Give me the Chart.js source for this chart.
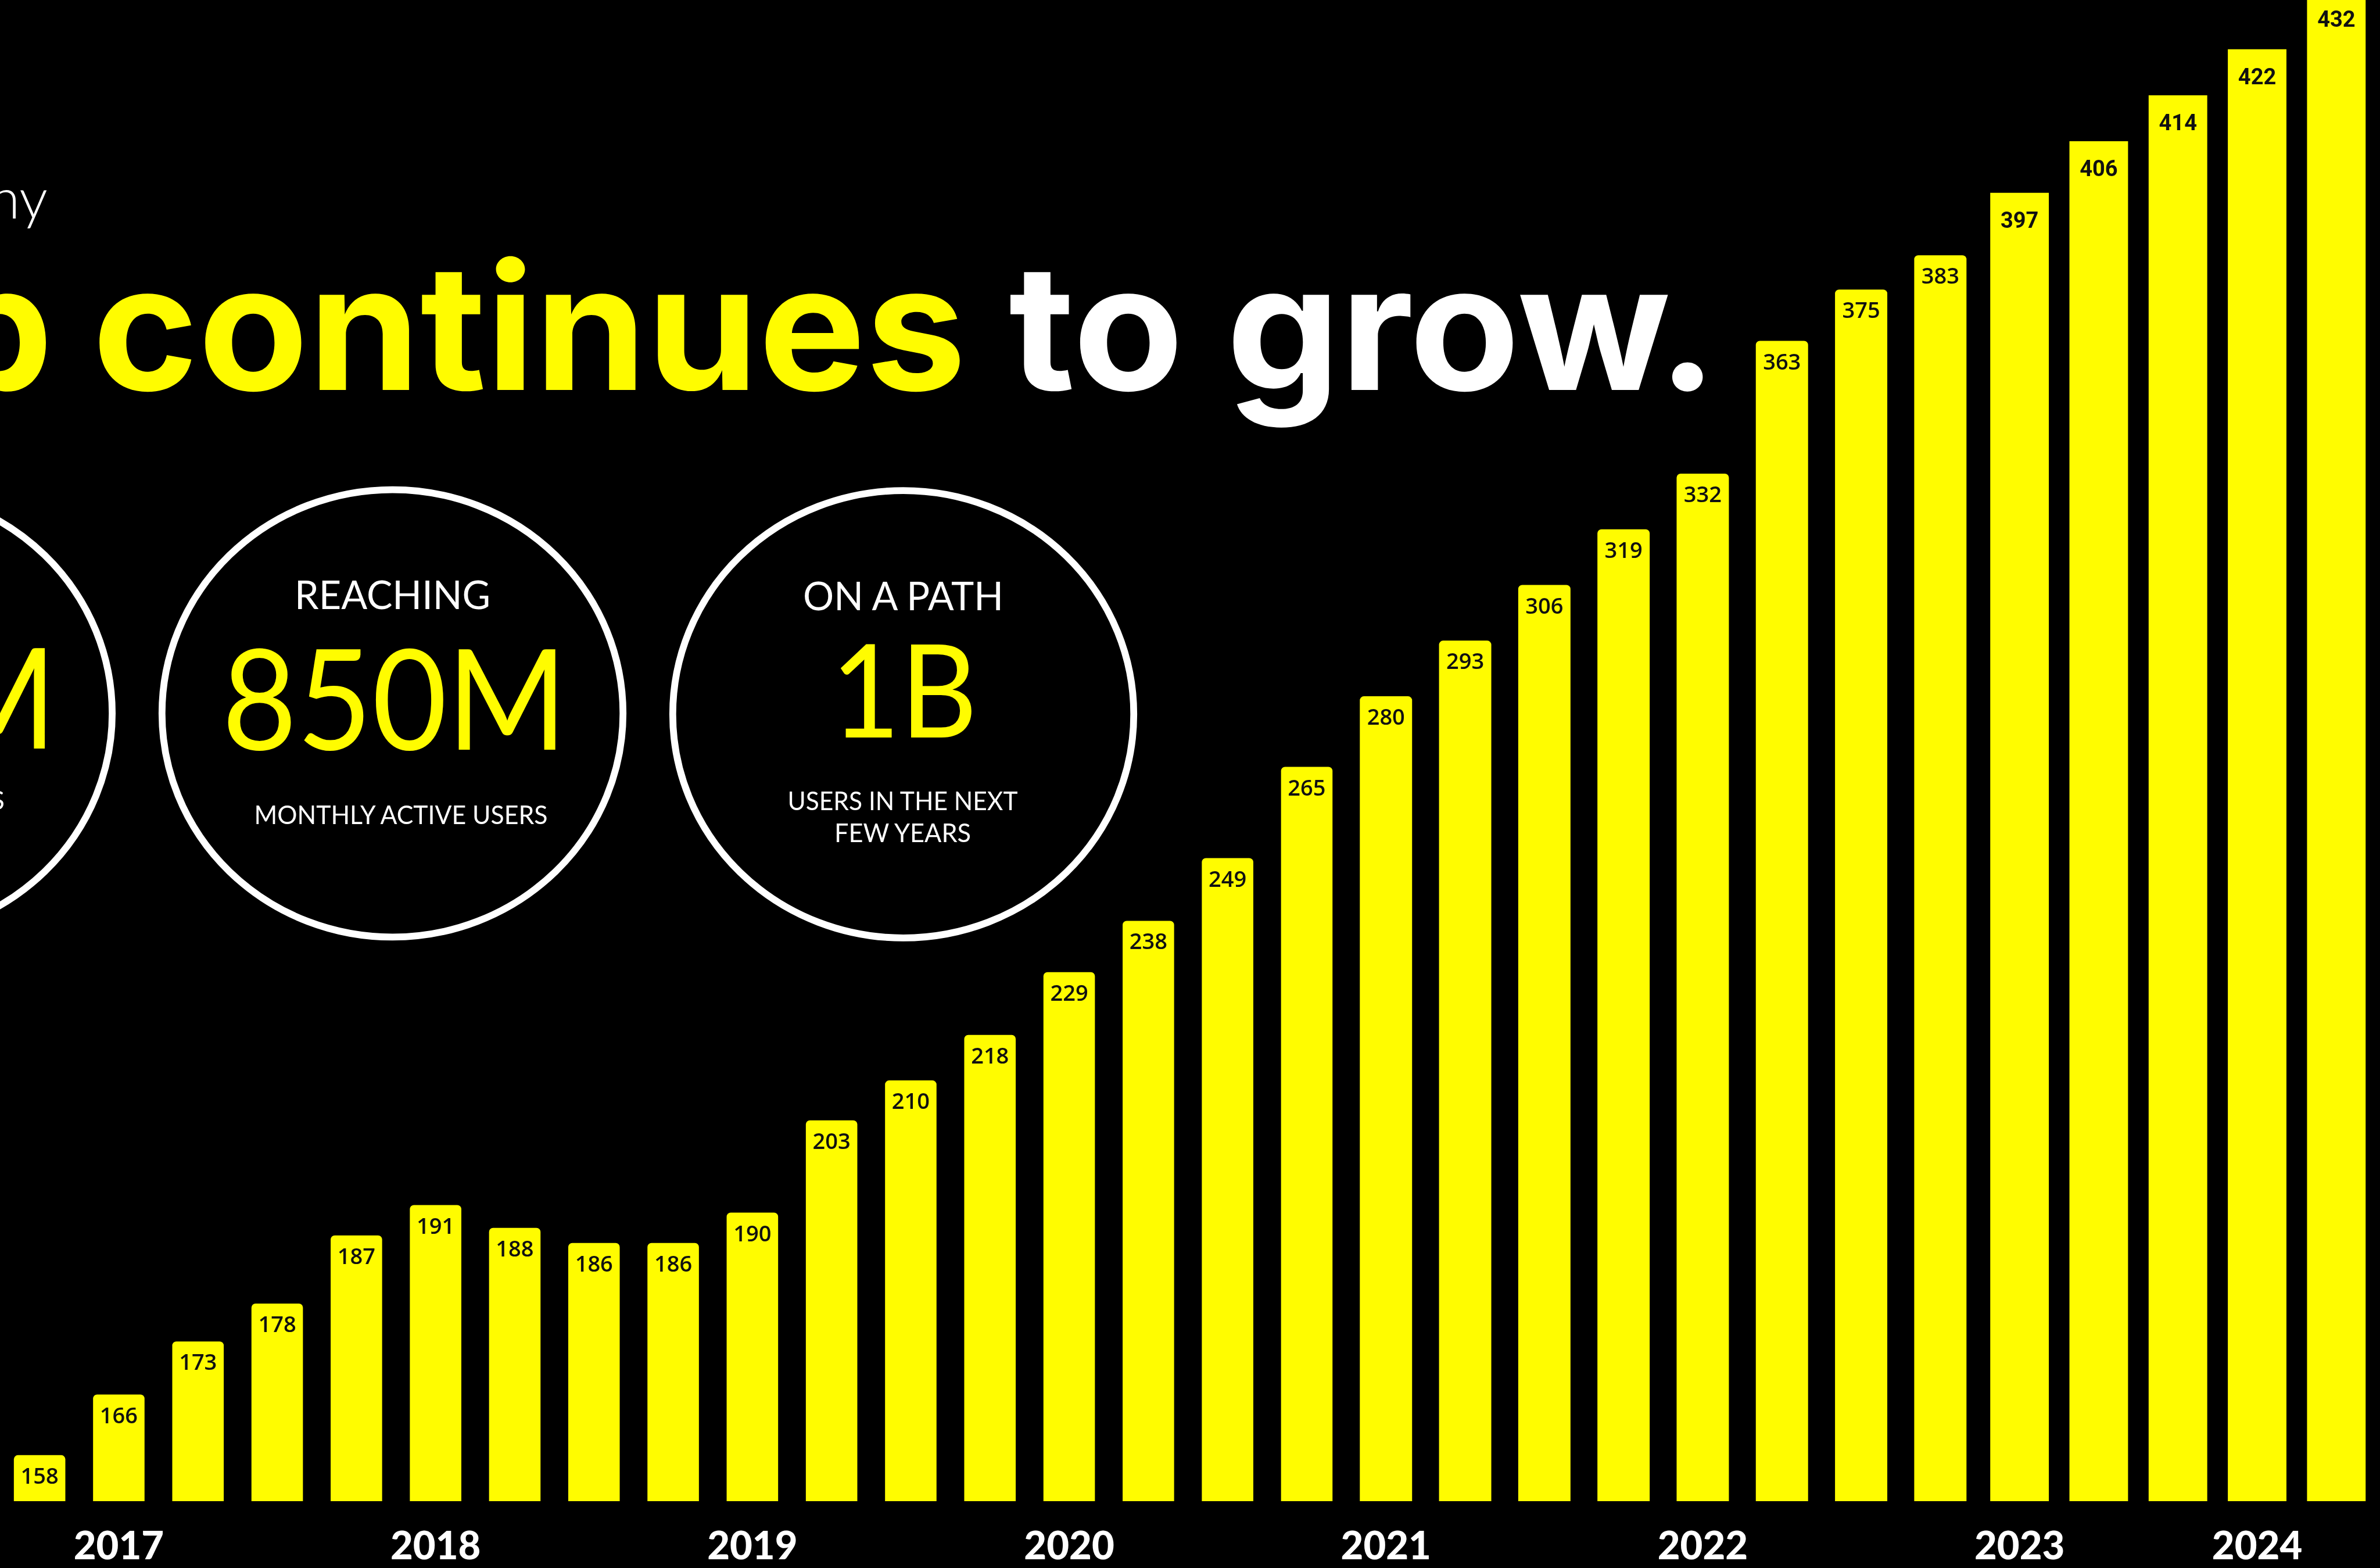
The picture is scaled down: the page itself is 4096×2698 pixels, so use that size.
<!DOCTYPE html>
<html>
<head>
<meta charset="utf-8">
<script src="https://cdn.jsdelivr.net/npm/chart.js@4.4.1/dist/chart.umd.min.js"></script>
<style>
  html, body { margin: 0; padding: 0; background: #000; overflow: hidden; }
  #wrap { position: relative; width: 4096px; height: 2698px; }
  #chart, #overlay { position: absolute; left: 0; top: 0; }
</style>
</head>
<body>
<div id="wrap">
  <canvas id="chart" width="4096" height="2698"></canvas>
  <svg id="overlay" width="4096" height="2698" font-family="Lato">
    <text x="82" y="376" text-anchor="end" fill="#fff" font-weight="300" font-size="97">ny</text>
    <g font-family="Inter" font-weight="700" font-size="300">
      <text x="91" y="671" text-anchor="end" fill="#FFFC00">p</text>
      <text x="159" y="671" fill="#FFFC00" textLength="1504" lengthAdjust="spacingAndGlyphs">continues</text>
      <text x="1736" y="671" fill="#fff" textLength="1220" lengthAdjust="spacingAndGlyphs">to grow.</text>
    </g>
    <g fill="none" stroke="#fff" stroke-width="11.8">
      <ellipse cx="-203.6" cy="1227.5" rx="396.7" ry="384.9"/>
      <ellipse cx="675.5" cy="1227.5" rx="396.7" ry="384.9"/>
      <ellipse cx="1554.5" cy="1229" rx="396.7" ry="384.9"/>
    </g>
    <g font-weight="400" lengthAdjust="spacingAndGlyphs">
      <text x="97" y="1288" text-anchor="end" fill="#FFFC00" font-size="240" textLength="203" lengthAdjust="spacingAndGlyphs">M</text>
      <text x="8" y="1393" text-anchor="end" fill="#fff" font-size="45">S</text>

      <text x="675.6" y="1048" text-anchor="middle" fill="#fff" font-size="67" textLength="337" lengthAdjust="spacingAndGlyphs">REACHING</text>
      <text x="679" y="1290" text-anchor="middle" fill="#FFFC00" font-size="240" textLength="594" lengthAdjust="spacingAndGlyphs">850M</text>
      <text x="690" y="1418" text-anchor="middle" fill="#fff" font-size="45" textLength="505" lengthAdjust="spacingAndGlyphs">MONTHLY ACTIVE USERS</text>

      <text x="1554.5" y="1050" text-anchor="middle" fill="#fff" font-size="67" textLength="345" lengthAdjust="spacingAndGlyphs">ON A PATH</text>
      <text x="1556" y="1269" text-anchor="middle" fill="#FFFC00" font-size="223" textLength="252" lengthAdjust="spacingAndGlyphs">1B</text>
      <text x="1553.5" y="1393.5" text-anchor="middle" fill="#fff" font-size="45" textLength="396" lengthAdjust="spacingAndGlyphs">USERS IN THE NEXT</text>
      <text x="1553.5" y="1448.5" text-anchor="middle" fill="#fff" font-size="45" textLength="235" lengthAdjust="spacingAndGlyphs">FEW YEARS</text>
    </g>
  </svg>
</div>
<script>
const yearTicks = ['', '2017', '', '', '', '2018', '', '', '', '2019', '', '', '', '2020', '', '', '', '2021',
    '', '', '', '2022', '', '', '', '2023', '', '', '2024', ''];

const dailyUsers = [158, 166, 173, 178, 187, 191, 188, 186, 186, 190, 203, 210, 218, 229, 238, 249, 265,
    280, 293, 306, 319, 332, 363, 375, 383, 397, 406, 414, 422, 432];

// the bars come in four panels, each with its own vertical scale
const panelStarts = [0, 10, 17, 25, 30];

const SNAP_YELLOW = '#FFFC00';

const panels = [
    { axis: 'yA', min: 151.93, max: 350.01, bar: 0.65, radius: 7, font: '600 38px "Open Sans"', drop: 49 },
    { axis: 'yB', min: 136.21, max: 399.51, bar: 0.65, radius: 7, font: '600 38px "Open Sans"', drop: 49 },
    { axis: 'yC', min: 92.04, max: 442.61, bar: 0.66, radius: 7, font: '600 38px "Open Sans"', drop: 49 },
    { axis: 'yD', min: 169.13, max: 430.59, bar: 0.74, radius: 0, font: 'bold 38px Roboto', drop: 60 },
];

const datasets = panels.map((p, n) => ({
    data: dailyUsers.map((v, i) => (i >= panelStarts[n] && i < panelStarts[n + 1] ? v : null)),
    yAxisID: p.axis,
    backgroundColor: SNAP_YELLOW,
    barPercentage: p.bar,
    categoryPercentage: 1,
    grouped: false,
    borderRadius: p.radius,
    borderSkipped: 'start',
    labelFont: p.font,
    labelDrop: p.drop,
}));

const scales = {
    x: {
        type: 'category',
        offset: true,
        grid: { display: false, drawTicks: false },
        border: { display: false },
        ticks: {
            color: '#fff',
            autoSkip: false,
            maxRotation: 0,
            padding: 38,
            font: { family: 'Lato', weight: 900, size: 67 },
        },
        afterFit(scale) { scale.height = 115; },
    },
};
panels.forEach(p => {
    scales[p.axis] = { type: 'linear', display: false, min: p.min, max: p.max };
});

// value printed inside the top of every bar
const valueLabels = {
    id: 'valueLabels',
    afterDatasetsDraw(chart) {
        const ctx = chart.ctx;
        ctx.save();
        ctx.fillStyle = '#111';
        ctx.textAlign = 'center';
        ctx.textBaseline = 'alphabetic';
        chart.data.datasets.forEach((ds, di) => {
            ctx.font = ds.labelFont;
            chart.getDatasetMeta(di).data.forEach((bar, i) => {
                const v = ds.data[i];
                if (v == null) return;
                ctx.fillText(String(v), bar.x, bar.y + ds.labelDrop);
            });
        });
        ctx.restore();
    }
};

new Chart(document.getElementById('chart'), {
    type: 'bar',
    data: { labels: yearTicks, datasets: datasets },
    options: {
        responsive: false,
        devicePixelRatio: 1,
        animation: false,
        layout: { padding: { left: 0, right: 7, top: 0, bottom: 0 } },
        plugins: { legend: { display: false }, tooltip: { enabled: false } },
        scales: scales,
    },
    plugins: [valueLabels],
});
</script>
</body>
</html>
